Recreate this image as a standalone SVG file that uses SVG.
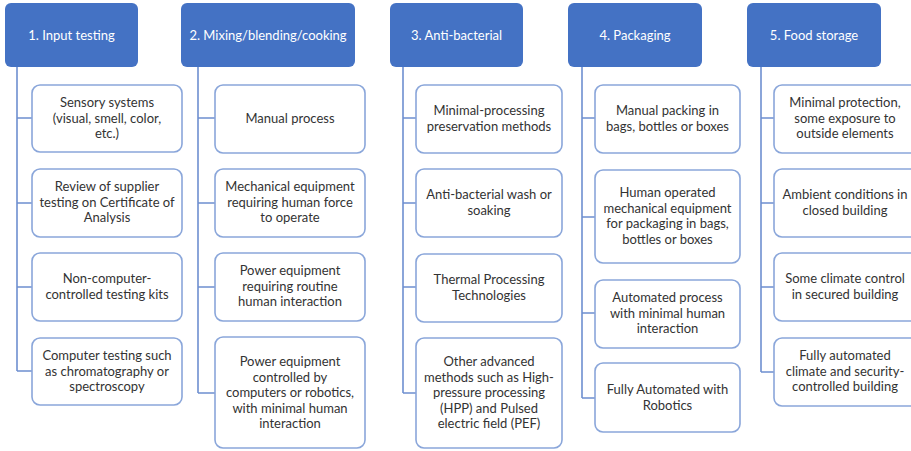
<svg xmlns="http://www.w3.org/2000/svg" width="911" height="451" viewBox="0 0 911 451">
<style>
.hd{fill:#4472C4;}
.ht{fill:#ffffff;font-family:Lato,"Open Sans","Liberation Sans",sans-serif;font-size:13px;text-anchor:middle;}
.bx{fill:#ffffff;stroke:#8AA6DA;stroke-width:1.6;}
.bt{fill:#333333;font-family:Lato,"Open Sans","Liberation Sans",sans-serif;font-size:13px;text-anchor:middle;}
.cn{fill:none;stroke:#6E8FD0;stroke-width:1.6;}
</style>
<rect width="911" height="451" fill="#ffffff"/>
<g id="connectors">
<path class="cn" d="M17,67 V371 M17,118 H32 M17,203 H32 M17,287 H32 M17,371 H32"/>
<path class="cn" d="M198,67 V393 M198,118 H215 M198,203 H215 M198,287 H215 M198,393 H215"/>
<path class="cn" d="M403,67 V393 M403,118 H416 M403,203 H416 M403,287 H416 M403,393 H416"/>
<path class="cn" d="M582,67 V398 M582,118 H595 M582,217 H595 M582,313 H595 M582,398 H595"/>
<path class="cn" d="M761,67 V372 M761,118 H774 M761,203 H774 M761,287 H774 M761,372 H774"/>
</g>
<g id="h1"><rect class="hd" x="5" y="3" width="133" height="64" rx="6"/><text class="ht" x="71.5" y="40">1. Input testing</text></g>
<g id="h2"><rect class="hd" x="181" y="3" width="174" height="64" rx="6"/><text class="ht" x="268" y="40">2. Mixing/blending/cooking</text></g>
<g id="h3"><rect class="hd" x="390" y="3" width="133" height="64" rx="6"/><text class="ht" x="456.5" y="40">3. Anti-bacterial</text></g>
<g id="h4"><rect class="hd" x="568" y="3" width="134" height="64" rx="6"/><text class="ht" x="635" y="40">4. Packaging</text></g>
<g id="h5"><rect class="hd" x="747" y="3" width="134" height="64" rx="6"/><text class="ht" x="814" y="40">5. Food storage</text></g>

<g id="n1a"><rect class="bx" x="32" y="85" width="150" height="67" rx="8"/><text class="bt" x="107" y="107">Sensory systems</text><text class="bt" x="107" y="122.5">(visual, smell, color,</text><text class="bt" x="107" y="138">etc.)</text></g>
<g id="n1b"><rect class="bx" x="32" y="169" width="150" height="68" rx="8"/><text class="bt" x="107" y="191">Review of supplier</text><text class="bt" x="107" y="206.5">testing on Certificate of</text><text class="bt" x="107" y="222">Analysis</text></g>
<g id="n1c"><rect class="bx" x="32" y="253" width="150" height="68" rx="8"/><text class="bt" x="107" y="283">Non-computer-</text><text class="bt" x="107" y="298.5">controlled testing kits</text></g>
<g id="n1d"><rect class="bx" x="32" y="338" width="150" height="67" rx="8"/><text class="bt" x="107" y="360">Computer testing such</text><text class="bt" x="107" y="375.5">as chromatography or</text><text class="bt" x="107" y="391">spectroscopy</text></g>

<g id="n2a"><rect class="bx" x="215" y="85" width="150" height="68" rx="8"/><text class="bt" x="290" y="123">Manual process</text></g>
<g id="n2b"><rect class="bx" x="215" y="169" width="150" height="68" rx="8"/><text class="bt" x="290" y="191">Mechanical equipment</text><text class="bt" x="290" y="206.5">requiring human force</text><text class="bt" x="290" y="222">to operate</text></g>
<g id="n2c"><rect class="bx" x="215" y="253" width="150" height="68" rx="8"/><text class="bt" x="290" y="275">Power equipment</text><text class="bt" x="290" y="290.5">requiring routine</text><text class="bt" x="290" y="306">human interaction</text></g>
<g id="n2d"><rect class="bx" x="215" y="337" width="150" height="111" rx="8"/><text class="bt" x="290" y="366">Power equipment</text><text class="bt" x="290" y="381.5">controlled by</text><text class="bt" x="290" y="397">computers or robotics,</text><text class="bt" x="290" y="412.5">with minimal human</text><text class="bt" x="290" y="428">interaction</text></g>

<g id="n3a"><rect class="bx" x="416" y="85" width="146" height="68" rx="8"/><text class="bt" x="489" y="115">Minimal-processing</text><text class="bt" x="489" y="130.5">preservation methods</text></g>
<g id="n3b"><rect class="bx" x="416" y="169" width="146" height="68" rx="8"/><text class="bt" x="489" y="199">Anti-bacterial wash or</text><text class="bt" x="489" y="214.5">soaking</text></g>
<g id="n3c"><rect class="bx" x="416" y="254" width="146" height="68" rx="8"/><text class="bt" x="489" y="284">Thermal Processing</text><text class="bt" x="489" y="299.5">Technologies</text></g>
<g id="n3d"><rect class="bx" x="416" y="338" width="146" height="110" rx="8"/><text class="bt" x="489" y="366">Other advanced</text><text class="bt" x="489" y="381.5">methods such as High-</text><text class="bt" x="489" y="397">pressure processing</text><text class="bt" x="489" y="412.5">(HPP) and Pulsed</text><text class="bt" x="489" y="428">electric field (PEF)</text></g>

<g id="n4a"><rect class="bx" x="595" y="85" width="145" height="68" rx="8"/><text class="bt" x="667.5" y="115">Manual packing in</text><text class="bt" x="667.5" y="130.5">bags, bottles or boxes</text></g>
<g id="n4b"><rect class="bx" x="595" y="170" width="145" height="93" rx="8"/><text class="bt" x="667.5" y="197">Human operated</text><text class="bt" x="667.5" y="212.5">mechanical equipment</text><text class="bt" x="667.5" y="228">for packaging in bags,</text><text class="bt" x="667.5" y="243.5">bottles or boxes</text></g>
<g id="n4c"><rect class="bx" x="595" y="280" width="145" height="68" rx="8"/><text class="bt" x="667.5" y="302">Automated process</text><text class="bt" x="667.5" y="317.5">with minimal human</text><text class="bt" x="667.5" y="333">interaction</text></g>
<g id="n4d"><rect class="bx" x="595" y="363" width="145" height="69" rx="8"/><text class="bt" x="667.5" y="394">Fully Automated with</text><text class="bt" x="667.5" y="409.5">Robotics</text></g>

<g id="n5a"><rect class="bx" x="774" y="85" width="144" height="68" rx="8"/><text class="bt" x="845" y="107">Minimal protection,</text><text class="bt" x="845" y="122.5">some exposure to</text><text class="bt" x="845" y="138">outside elements</text></g>
<g id="n5b"><rect class="bx" x="774" y="169" width="144" height="68" rx="8"/><text class="bt" x="845" y="199">Ambient conditions in</text><text class="bt" x="845" y="214.5">closed building</text></g>
<g id="n5c"><rect class="bx" x="774" y="253" width="144" height="68" rx="8"/><text class="bt" x="845" y="283">Some climate control</text><text class="bt" x="845" y="298.5">in secured building</text></g>
<g id="n5d"><rect class="bx" x="774" y="338" width="144" height="68" rx="8"/><text class="bt" x="845" y="360">Fully automated</text><text class="bt" x="845" y="375.5">climate and security-</text><text class="bt" x="845" y="391">controlled building</text></g>
</svg>
